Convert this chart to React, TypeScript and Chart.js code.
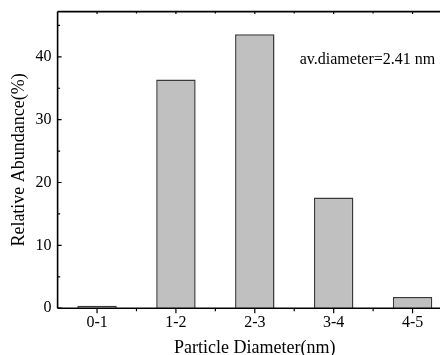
import React, { useEffect, useRef } from "react";
import { Chart, registerables } from "chart.js";

Chart.register(...registerables);

const categories = ["0-1", "1-2", "2-3", "3-4", "4-5"];
const abundance = [0.4, 36.4, 43.6, 17.6, 1.8];
const yMajorTicks = [0, 10, 20, 30, 40];
const yMinorTicks = [5, 15, 25, 35, 45];
const annotationText = "av.diameter=2.41 nm";
const xTitle = "Particle Diameter(nm)";
const yTitle = "Relative Abundance(%)";

const FONT = "'Liberation Serif', 'Times New Roman', serif";

const framePlugin = {
  id: "frame",
  afterDraw(chart: any) {
    const { ctx, chartArea, scales } = chart;
    const x = scales.x;
    const y = scales.y;
    const { left, right, top, bottom } = chartArea;
    ctx.save();
    ctx.strokeStyle = "#000";
    ctx.lineWidth = 1.6;
    ctx.beginPath();
    ctx.moveTo(left, top);
    ctx.lineTo(right, top);
    ctx.moveTo(left, top);
    ctx.lineTo(left, bottom);
    ctx.moveTo(left, bottom);
    ctx.lineTo(right, bottom);
    ctx.moveTo(right, top);
    ctx.lineTo(right, bottom);
    ctx.stroke();

    ctx.lineWidth = 1.2;
    ctx.beginPath();
    yMajorTicks.forEach((v) => {
      const py = y.getPixelForValue(v);
      ctx.moveTo(left, py);
      ctx.lineTo(left + 4, py);
    });
    yMinorTicks.forEach((v) => {
      const py = y.getPixelForValue(v);
      ctx.moveTo(left, py);
      ctx.lineTo(left + 2.5, py);
    });
    categories.forEach((_, i) => {
      const px = x.getPixelForValue(i);
      ctx.moveTo(px, bottom);
      ctx.lineTo(px, bottom + 5);
      ctx.moveTo(px, top);
      ctx.lineTo(px, top + 2.5);
      if (i < categories.length - 1) {
        const pb = x.getPixelForValue(i + 0.5);
        ctx.moveTo(pb, bottom);
        ctx.lineTo(pb, bottom + 3);
        ctx.moveTo(pb, top);
        ctx.lineTo(pb, top + 2);
      }
    });
    ctx.stroke();

    ctx.fillStyle = "#000";
    ctx.font = `16px ${FONT}`;
    ctx.textBaseline = "middle";
    ctx.textAlign = "left";
    ctx.fillText(annotationText, x.getPixelForValue(2.57), y.getPixelForValue(39.6));
    ctx.restore();
  },
};

export default function App() {
  const ref = useRef<HTMLCanvasElement | null>(null);
  useEffect(() => {
    if (!ref.current) return;
    const chart = new Chart(ref.current, {
      type: "bar",
      data: {
        labels: categories,
        datasets: [
          {
            data: abundance,
            backgroundColor: "#c0c0c0",
            borderColor: "#3a3a3a",
            borderWidth: 1.5,
            barPercentage: 0.5,
            categoryPercentage: 1,
          },
        ],
      },
      options: {
        responsive: false,
        animation: false,
        layout: { padding: { top: 4, right: 8, left: 8, bottom: 0 } },
        plugins: { legend: { display: false }, tooltip: { enabled: false } },
        scales: {
          x: {
            type: "category",
            offset: true,
            grid: { display: false, drawTicks: false },
            border: { display: false },
            ticks: {
              color: "#000",
              font: { family: FONT, size: 16 },
              padding: 5,
              maxRotation: 0,
            },
            title: {
              display: true,
              text: xTitle,
              color: "#000",
              font: { family: FONT, size: 18 },
              padding: { top: 0, bottom: 0 },
            },
          },
          y: {
            min: 0,
            max: 47.2,
            grid: { display: false, drawTicks: false },
            border: { display: false },
            afterBuildTicks: (scale: any) => {
              scale.ticks = yMajorTicks.map((v) => ({ value: v }));
            },
            ticks: {
              color: "#000",
              font: { family: FONT, size: 16 },
              padding: 6,
            },
            title: {
              display: true,
              text: yTitle,
              color: "#000",
              font: { family: FONT, size: 18 },
              padding: { top: 0, bottom: 0 },
            },
          },
        },
      },
      plugins: [framePlugin],
    });
    return () => chart.destroy();
  }, []);
  return (
    <div
      style={{
        position: "absolute",
        left: 0,
        top: 0,
        width: 440,
        height: 355,
        overflow: "hidden",
        background: "#fff",
      }}
    >
      <canvas
        ref={ref}
        width={460}
        height={363}
        style={{ display: "block", marginTop: -4 }}
      />
    </div>
  );
}
